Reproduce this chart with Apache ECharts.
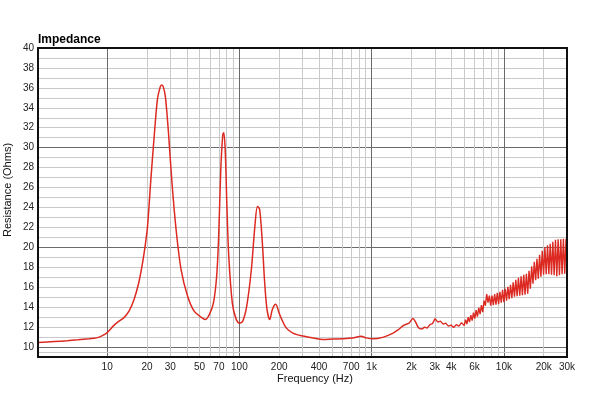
<!DOCTYPE html>
<html>
<head>
<meta charset="utf-8">
<script src="https://cdn.jsdelivr.net/npm/echarts@6/dist/echarts.min.js"></script>
<style>html,body{margin:0;padding:0;background:#fff}#c{width:600px;height:393px}</style>
</head>
<body>
<div id="c"></div>
<script>
// Smooth part of the impedance curve (Hz, Ohms)
const freqs = [3,4,5,6,7.3,8.3,9.2,10,11.3,12.3,13.4,14.7,16,17.3,18.5,19.4,20.2,21.4,22.7,24,25.2,25.8,26.5,27.5,28.3,29.2,30.9,33.2,36.2,40.6,45.5,51.3,55.2,59.2,63.6,67.3,69.7,72.3,74.9,76.3,78.4,80.3,83.1,88.4,93.9,100,106,113.6,123.2,130.9,137,142.3,149.1,155.4,161.8,169.6,177.7,188.4,199.8,207,225,254,302,362,428,511,605,717,834,909,1020,1213,1453,1590,1755,1915,2050,2150,2270,2400];
const ohms  = [10.45,10.55,10.63,10.72,10.83,10.92,11.15,11.45,12.2,12.6,12.95,13.65,14.8,16.4,18.4,20.2,22.1,26.8,31.2,34.85,36.1,36.3,36.15,35.2,33.5,31.2,26.5,21.8,17.8,15.1,13.6,13.0,12.75,13.25,14.4,17.1,21.1,27.8,31.3,31.5,29.2,24.5,19.1,14.4,12.9,12.4,12.6,14.1,17.8,22.1,24.1,23.8,20.45,16.4,13.75,12.75,13.8,14.3,13.4,12.9,11.95,11.4,11.1,10.9,10.75,10.8,10.83,10.9,11.07,10.92,10.82,10.97,11.4,11.74,12.2,12.4,12.85,12.5,11.9,11.8];
// Noisy high-frequency part (alternating high / low readings)
const noisyFreqs = [2400,2512,2630,2754,2884,3020,3162,3311,3467,3631,3802,3981,4169,4365,4571,4786,
  5012,5129,5248,5370,5495,5623,5754,5888,6026,6166,6310,6457,6607,6761,6918,7079,7244,7413,7586,7762,7943,8128,8318,8511,8710,8913,9120,9333,9550,9772,
  10000,10233,10471,10715,10965,11220,11482,11749,12023,12303,12589,12882,13183,13490,13804,14125,14454,14791,15136,15488,15849,16218,16596,16982,17378,17783,18197,18621,19055,19498,19953,20417,20893,21380,21878,22387,22909,23442,23988,24547,25119,25704,26303,26915,27542,28184,28840,29512,30000];
const noisyOhms  = [11.8,12.0,11.9,12.25,12.35,12.85,12.5,12.6,12.3,12.4,12.1,12.2,11.95,12.25,12.1,12.45,
  12.15,12.75,12.3,13.0,12.5,13.2,12.65,13.45,12.85,13.7,13.05,13.95,13.3,14.2,13.5,14.65,14.15,15.3,14.45,15.15,14.15,15.15,14.2,15.3,14.25,15.45,14.3,15.55,14.45,15.75,
  14.5,15.85,14.65,16.05,14.8,16.25,14.9,16.5,15.05,16.75,15.1,16.95,15.15,17.1,15.2,17.25,15.25,17.35,15.35,17.65,15.85,18.1,16.35,18.55,16.7,18.85,16.85,19.25,17.05,19.65,17.25,20.0,17.3,20.2,17.3,20.35,17.25,20.55,17.2,20.75,17.1,20.8,17.2,20.8,17.3,20.85,17.35,20.85,17.6];

const xTickValues = [10,20,30,50,70,100,200,400,700,1000,2000,3000,4000,6000,10000,20000,30000];
const xTickLabels = ['10','20','30','50','70','100','200','400','700','1k','2k','3k','4k','6k','10k','20k','30k'];
const majorFreqs = [10,100,1000,10000];
const minorFreqs = [20,30,40,50,60,70,80,90,200,300,400,500,600,700,800,900,2000,3000,4000,5000,6000,7000,8000,9000,20000,30000];
const yTickLabels = [10,12,14,16,18,20,22,24,26,28,30,32,34,36,38,40];

const FONT = 'Liberation Sans, Arial, sans-serif';

const mainData = freqs.map((f, i) => [f, ohms[i]]);
const noisyData = noisyFreqs.map((f, i) => [f, noisyOhms[i]]);

const gridFreqs = majorFreqs.concat(minorFreqs).sort((a, b) => a - b);
const vLines = gridFreqs.map(f => {
  const li = xTickValues.indexOf(f);
  const isMajor = majorFreqs.indexOf(f) >= 0;
  return {
    xAxis: f,
    lineStyle: { color: isMajor ? '#6a6a6a' : '#c9c9c9', width: 1, type: 'solid' },
    label: li >= 0 ? { show: true, formatter: xTickLabels[li] } : { show: false }
  };
});

const chart = echarts.init(document.getElementById('c'), null, { renderer: 'canvas' });
chart.setOption({
  animation: false,
  backgroundColor: '#fff',
  title: {
    text: 'Impedance', left: 38, top: 34, padding: 0,
    textStyle: { fontFamily: FONT, fontSize: 12, fontWeight: 'bold', color: '#000' }
  },
  grid: { left: 38, right: 33, top: 48, bottom: 36, show: false },
  xAxis: {
    type: 'log', logBase: 10, min: 3, max: 30000,
    axisLine: { show: false }, axisTick: { show: false },
    axisLabel: { show: false }, splitLine: { show: false }
  },
  yAxis: {
    type: 'value', min: 9, max: 40, interval: 1,
    axisLine: { show: false }, axisTick: { show: false },
    axisLabel: {
      fontFamily: FONT, fontSize: 10, color: '#222', margin: 4, padding: [5, 0, 0, 0],
      formatter: v => (yTickLabels.indexOf(v) >= 0 ? String(v) : '')
    },
    splitLine: {
      show: true,
      lineStyle: { width: 1, color: ['#c9c9c9', '#6a6a6a', '#c9c9c9', '#c9c9c9', '#c9c9c9', '#c9c9c9', '#c9c9c9', '#c9c9c9', '#c9c9c9', '#c9c9c9'] }
    }
  },
  series: [
    {
      type: 'line', data: [], z: 1, silent: true,
      markLine: {
        silent: true, symbol: ['none', 'none'], animation: false,
        label: { position: 'start', distance: 5, fontFamily: FONT, fontSize: 10, color: '#222' },
        data: vLines.concat([{ yAxis: 9.5, lineStyle: { color: '#c9c9c9', width: 1, type: 'solid' }, label: { show: false } }])
      }
    },
    {
      type: 'line', data: mainData, z: 5, showSymbol: false, smooth: 0.3,
      lineStyle: { color: '#dc2a22', width: 1.5 }
    },
    {
      type: 'line', data: noisyData, z: 5, showSymbol: false, smooth: false,
      lineStyle: { color: '#dc2a22', width: 1.4 }
    }
  ],
  graphic: [
    { type: 'rect', z: 100, silent: true, shape: { x: 38, y: 48, width: 529, height: 309 },
      style: { fill: 'none', stroke: '#111', lineWidth: 2 } },
    { type: 'text', z: 100, x: 315, y: 379, silent: true,
      style: { text: 'Frequency (Hz)', font: '11px ' + FONT, fill: '#111', textAlign: 'center', textVerticalAlign: 'middle' } },
    { type: 'text', z: 100, x: 8, y: 190, rotation: Math.PI / 2, silent: true,
      style: { text: 'Resistance (Ohms)', font: '11px ' + FONT, fill: '#111', textAlign: 'center', textVerticalAlign: 'middle' } }
  ]
});
</script>
</body>
</html>
